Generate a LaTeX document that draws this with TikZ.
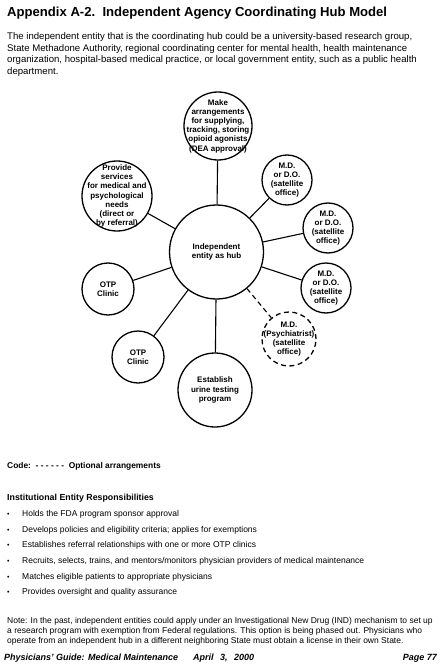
\documentclass[tikz,border=0pt]{standalone}
\usepackage{fontspec}
\setmainfont{Liberation Sans}
\begin{document}
\begin{tikzpicture}[x=1pt,y=-1pt,
  bubble/.style={circle,draw,line width=1.3pt,inner sep=0pt},
  ctext/.style={font=\bfseries\fontsize{8}{9.2}\selectfont,align=center,inner sep=0pt},
  link/.style={line width=1.1pt},
  body/.style={anchor=base west,inner sep=0pt,font=\fontsize{9.6}{11}\selectfont},
  small/.style={anchor=base west,inner sep=0pt,font=\fontsize{8.5}{10}\selectfont},
  bhead/.style={anchor=base west,inner sep=0pt,font=\bfseries\fontsize{8.4}{10}\selectfont},
  foot/.style={anchor=base west,inner sep=0pt,font=\bfseries\itshape\fontsize{9}{10}\selectfont}]
\useasboundingbox (0,0) rectangle (442,671);
\fill[white] (0,0) rectangle (442,671);

% title and intro
\node[anchor=base west,inner sep=0pt,font=\bfseries\fontsize{13.1}{15}\selectfont] (title) at (7,17)
  {Appendix A-2.\ \ Independent Agency Coordinating Hub Model};
\node[body] (p1) at (7,40) {The independent entity that is the coordinating hub could be a university-based research group,};
\node[body] (p2) at (7,51.5) {State Methadone Authority, regional coordinating center for mental health, health maintenance};
\node[body] (p3) at (7,63) {organization, hospital-based medical practice, or local government entity, such as a public health};
\node[body] (p4) at (7,74.5) {department.};

% bubbles
\node[bubble,minimum size=94pt,label={[ctext]center:{Independent\\entity as hub}}] (hub) at (216.5,252) {};
\node[bubble,minimum size=68pt,label={[ctext]center:{Make\\arrangements\\for supplying,\\tracking, storing\\opioid agonists\\(DEA approval)}}] (top) at (218,126) {};
\node[bubble,minimum size=70pt,label={[ctext]center:{Provide\\services\\for medical and\\psychological\\needs\\(direct or\\by referral)}}] (prov) at (117,196) {};
\node[bubble,minimum size=50pt,label={[ctext]center:{M.D.\\or D.O.\\(satellite\\office)}}] (md1) at (287,180) {};
\node[bubble,minimum size=50pt,label={[ctext]center:{M.D.\\or D.O.\\(satellite\\office)}}] (md2) at (328,228) {};
\node[bubble,minimum size=50pt,label={[ctext]center:{M.D.\\or D.O.\\(satellite\\office)}}] (md3) at (326,288) {};
\node[bubble,dash pattern=on 5pt off 3.5pt,minimum size=54pt,label={[ctext]center:{M.D.\\(Psychiatrist)\\(satellite\\office)}}] (mdp) at (289,339) {};
\node[bubble,minimum size=52pt,label={[ctext]center:{OTP\\Clinic}}] (otp1) at (108,289) {};
\node[bubble,minimum size=52pt,label={[ctext]center:{OTP\\Clinic}}] (otp2) at (138,357) {};
\node[bubble,minimum size=74pt,label={[ctext]center:{Establish\\urine testing\\program}}] (est) at (215,390) {};

% connectors
\draw[link] (hub) -- (top);
\draw[link] (hub) -- (prov);
\draw[link] (hub) -- (md1);
\draw[link] (hub) -- (md2);
\draw[link] (hub) -- (md3);
\draw[link,dash pattern=on 5pt off 3.5pt] (hub) -- (mdp);
\draw[link] (hub) -- (otp1);
\draw[link] (hub) -- (otp2);
\draw[link] (hub) -- (est);

% code line
\node[bhead] (code) at (7,468) {Code:\ \ - - - - - -\ \ Optional arrangements};

% responsibilities
\node[bhead,font=\bfseries\fontsize{8.8}{10}\selectfont] (resp) at (7,500) {Institutional Entity Responsibilities};
\foreach \t [count=\i] in {Holds the FDA program sponsor approval,
  Develops policies and eligibility criteria; applies for exemptions,
  Establishes referral relationships with one or more OTP clinics,
  {Recruits, selects, trains, and mentors/monitors physician providers of medical maintenance},
  Matches eligible patients to appropriate physicians,
  Provides oversight and quality assurance} {
  \node[small,font=\fontsize{7}{8}\selectfont] (bul\i) at (7,501+\i*15.6) {•};
  \node[small] (item\i) at (22,501+\i*15.6) {\t};
}

% note
\node[small] (n1) at (7,623) {Note: In the past, independent entities could apply under an Investigational New Drug (IND) mechanism to set up};
\node[small] (n2) at (7,633) {a research program with exemption from Federal regulations. This option is being phased out. Physicians who};
\node[small] (n3) at (7,643) {operate from an independent hub in a different neighboring State must obtain a license in their own State.};

% footer
\node[foot] (f1) at (4,660) {Physicians' Guide: Medical Maintenance};
\node[foot] (f2) at (193,660) {April\hspace{4pt} 3,\hspace{4pt} 2000};
\node[foot,anchor=base east] (f3) at (437,660) {Page 77};
\end{tikzpicture}
\end{document}
